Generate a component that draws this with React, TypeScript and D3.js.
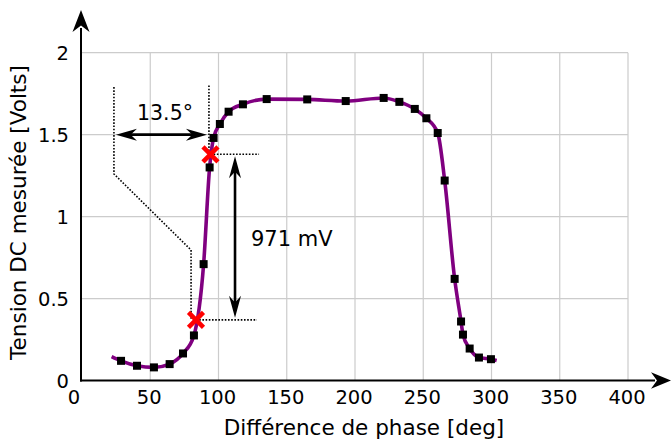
import React from "react";
import * as d3 from "d3";

const W = 671;
const H = 441;

// Measured points (phase difference in deg, DC voltage in V)
const phaseDeg = [28.6, 40.3, 52.7, 64.2, 74, 82, 89.1, 93.5, 96.4, 101, 107.4, 117.9, 135.3, 165, 193.2, 221, 232.5, 243.8, 252.3, 260.6, 265.7, 273, 277.7, 279.1, 284, 290.8, 299.6];
const voltage = [0.12, 0.09, 0.08, 0.1, 0.165, 0.275, 0.71, 1.3, 1.48, 1.565, 1.64, 1.685, 1.717, 1.715, 1.705, 1.724, 1.7, 1.657, 1.6, 1.51, 1.22, 0.62, 0.36, 0.28, 0.195, 0.14, 0.13];

// Ends of the fitted curve
const curveStart = [21.7, 0.146];
const curveEnd = [303.8, 0.122];

// Red crosses (half-amplitude points)
const crossDeg = [94.1, 83.5];
const crossV = [1.38, 0.37];

const xTicks = [0, 50, 100, 150, 200, 250, 300, 350, 400];
const yTicks = [0, 0.5, 1, 1.5, 2];
const yTickLabels = ["0", "0.5", "1", "1.5", "2"];

const FONT = "DejaVu Sans, sans-serif";

function arrowHead(tipX: number, tipY: number, angle: number, len: number, half: number) {
  const c = Math.cos(angle), s = Math.sin(angle);
  const pt = (u: number, v: number) => [tipX + u * c - v * s, tipY + u * s + v * c];
  const a = pt(0, 0), b = pt(-len, -half), n = pt(-len * 0.7, 0), d = pt(-len, half);
  return `M${a[0]},${a[1]}L${b[0]},${b[1]}L${n[0]},${n[1]}L${d[0]},${d[1]}Z`;
}

export default function App() {
  const x = d3.scaleLinear().domain([0, 400]).range([82, 628]);
  const y = d3.scaleLinear().domain([0, 2]).range([380.5, 52.7]);

  const pts: [number, number][] = phaseDeg.map((d, i) => [d, voltage[i]]);
  const curvePts: [number, number][] = [[curveStart[0], curveStart[1]], ...pts, [curveEnd[0], curveEnd[1]]];
  const line = d3
    .line<[number, number]>()
    .x((d) => x(d[0]))
    .y((d) => y(d[1]))
    .curve(d3.curveMonotoneX);

  const sq = 8;
  const axisX0 = 81;
  const axisY0 = 380.5;

  const leftDot: [number, number][] = [[23.4, 1.79], [23.4, 1.26], [79.9, 0.796], [79.9, crossV[1]]];
  const rightDot: [number, number][] = [[93.0, 1.8], [93.0, crossV[0]]];
  const dotLine = d3.line<[number, number]>().x((d) => x(d[0])).y((d) => y(d[1]));

  const hArrowY = y(1.5);
  const hA0 = x(23.4), hA1 = x(93.0);
  const vArrowX = x(112.1);
  const vA0 = y(crossV[0]), vA1 = y(crossV[1]);

  return (
    <svg width={W} height={H} style={{ position: "absolute", left: 0, top: 0, background: "#fff" }} fontFamily={FONT}>
      {/* grid */}
      <g stroke="#cccccc" strokeWidth={1.2}>
        {xTicks.slice(1).map((t) => (
          <line key={"gx" + t} x1={x(t)} x2={x(t)} y1={y(2)} y2={axisY0} />
        ))}
        {yTicks.slice(1).map((t) => (
          <line key={"gy" + t} x1={axisX0} x2={x(400)} y1={y(t)} y2={y(t)} />
        ))}
      </g>

      {/* axes */}
      <line x1={axisX0} x2={axisX0} y1={axisY0 + 1} y2={28} stroke="#000" strokeWidth={2} />
      <path d={arrowHead(axisX0, 10, -Math.PI / 2, 22, 8.5)} fill="#000" />
      <line x1={axisX0 - 1} x2={655} y1={axisY0} y2={axisY0} stroke="#000" strokeWidth={2} />
      <path d={arrowHead(671, axisY0, 0, 20, 8.3)} fill="#000" />

      {/* tick labels */}
      <g fontSize={19.5} fill="#000">
        {xTicks.map((t) => (
          <text key={"tx" + t} x={t === 0 ? x(t) - 8 : x(t) - 1} y={404} textAnchor="middle">
            {t}
          </text>
        ))}
        {yTicks.map((t, i) => (
          <text key={"ty" + t} x={69} y={y(t) + 7} textAnchor="end">
            {yTickLabels[i]}
          </text>
        ))}
      </g>

      {/* axis titles */}
      <text x={364} y={435} textAnchor="middle" fontSize={21.5}>
        Différence de phase [deg]
      </text>
      <text transform={`translate(26,212.5) rotate(-90)`} textAnchor="middle" fontSize={21.5}>
        Tension DC mesurée [Volts]
      </text>

      {/* dotted annotation lines */}
      <g fill="none" stroke="#000" strokeWidth={1.6} strokeDasharray="1.6,1.6">
        <path d={dotLine(leftDot) || ""} />
        <path d={dotLine(rightDot) || ""} />
        <line x1={x(crossDeg[0])} x2={x(129.7)} y1={y(crossV[0])} y2={y(crossV[0])} />
        <line x1={x(crossDeg[1])} x2={x(128.2)} y1={y(crossV[1])} y2={y(crossV[1])} />
      </g>

      {/* curve */}
      <path d={line(curvePts) || ""} fill="none" stroke="#800080" strokeWidth={3.6} />

      {/* markers */}
      <g fill="#000">
        {pts.map((p, i) => (
          <rect key={"m" + i} x={x(p[0]) - sq / 2} y={y(p[1]) - sq / 2} width={sq} height={sq} />
        ))}
      </g>

      {/* red crosses */}
      <g stroke="#ff0000" strokeWidth={4.5}>
        {crossDeg.map((d, i) => {
          const cx = x(d), cy = y(crossV[i]), r = 7.5;
          return (
            <g key={"c" + i}>
              <line x1={cx - r} y1={cy - r} x2={cx + r} y2={cy + r} />
              <line x1={cx - r} y1={cy + r} x2={cx + r} y2={cy - r} />
            </g>
          );
        })}
      </g>

      {/* horizontal double arrow */}
      <line x1={hA0 + 12} x2={hA1 - 12} y1={hArrowY} y2={hArrowY} stroke="#000" strokeWidth={2.6} />
      <path d={arrowHead(hA0 + 2, hArrowY, Math.PI, 21, 6)} fill="#000" />
      <path d={arrowHead(hA1 - 2, hArrowY, 0, 21, 6)} fill="#000" />
      <text x={x(60.8)} y={y(1.59)} textAnchor="middle" fontSize={20.5}>
        13.5°
      </text>

      {/* vertical double arrow */}
      <line x1={vArrowX} x2={vArrowX} y1={vA0 + 12} y2={vA1 - 12} stroke="#000" strokeWidth={2.6} />
      <path d={arrowHead(vArrowX, vA0 + 2, -Math.PI / 2, 22, 6)} fill="#000" />
      <path d={arrowHead(vArrowX, vA1 - 2, Math.PI / 2, 22, 6)} fill="#000" />
      <text x={x(123.8)} y={y(0.82)} textAnchor="start" fontSize={21}>
        971 mV
      </text>
    </svg>
  );
}
